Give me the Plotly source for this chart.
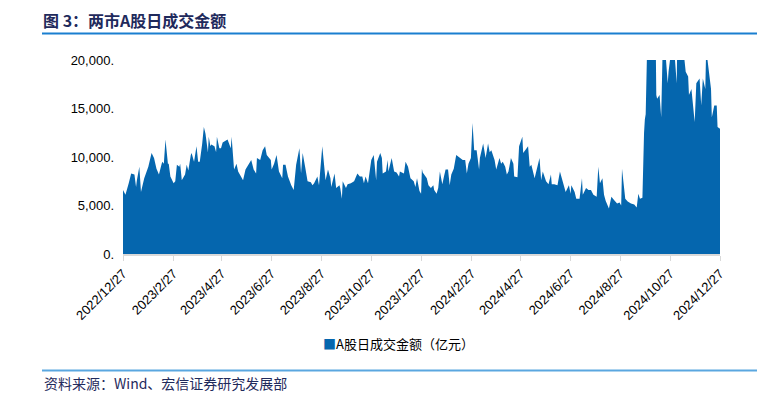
import plotly.graph_objects as go

dates = [
"2022-12-27","2022-12-30","2023-01-03","2023-01-06","2023-01-10","2023-01-12","2023-01-13","2023-01-16","2023-01-18","2023-01-22",
"2023-01-27","2023-01-31","2023-02-03","2023-02-06","2023-02-09","2023-02-13","2023-02-15","2023-02-17","2023-02-20","2023-02-21",
"2023-02-23","2023-02-27","2023-03-01","2023-03-03","2023-03-06","2023-03-07","2023-03-09","2023-03-13","2023-03-15","2023-03-17",
"2023-03-20","2023-03-21","2023-03-24","2023-03-27","2023-03-29","2023-03-31","2023-04-03","2023-04-05","2023-04-07","2023-04-10",
"2023-04-11","2023-04-13","2023-04-14","2023-04-18","2023-04-20","2023-04-21","2023-04-24","2023-04-26","2023-04-28","2023-05-04",
"2023-05-08","2023-05-09","2023-05-12","2023-05-15","2023-05-17","2023-05-19","2023-05-23","2023-05-26","2023-05-29","2023-06-02",
"2023-06-05","2023-06-08","2023-06-09","2023-06-13","2023-06-16","2023-06-19","2023-06-21","2023-06-26","2023-06-27","2023-06-30",
"2023-07-03","2023-07-06","2023-07-10","2023-07-11","2023-07-14","2023-07-17","2023-07-21","2023-07-24","2023-07-27","2023-07-31",
"2023-08-02","2023-08-04","2023-08-07","2023-08-10","2023-08-14","2023-08-16","2023-08-18","2023-08-22","2023-08-24","2023-08-25",
"2023-08-28","2023-08-31","2023-09-01","2023-09-04","2023-09-07","2023-09-08","2023-09-12","2023-09-14","2023-09-18","2023-09-19",
"2023-09-21","2023-09-22","2023-09-26","2023-09-28","2023-10-02","2023-10-06","2023-10-10","2023-10-13","2023-10-16","2023-10-18",
"2023-10-20","2023-10-23","2023-10-25","2023-10-27","2023-10-30","2023-11-02","2023-11-03","2023-11-07","2023-11-09","2023-11-10",
"2023-11-14","2023-11-16","2023-11-17","2023-11-21","2023-11-24","2023-11-27","2023-11-30","2023-12-01","2023-12-06","2023-12-08",
"2023-12-11","2023-12-14","2023-12-18","2023-12-20","2023-12-22","2023-12-25","2023-12-27","2023-12-28","2023-12-29","2024-01-03",
"2024-01-05","2024-01-08","2024-01-11","2024-01-12","2024-01-15","2024-01-17","2024-01-19","2024-01-22","2024-01-24","2024-01-26",
"2024-01-29","2024-01-31","2024-02-02","2024-02-05","2024-02-08","2024-02-12","2024-02-16","2024-02-19","2024-02-21","2024-02-23",
"2024-02-26","2024-02-28","2024-03-01","2024-03-04","2024-03-07","2024-03-08","2024-03-12","2024-03-15","2024-03-18","2024-03-20",
"2024-03-22","2024-03-26","2024-03-28","2024-04-01","2024-04-03","2024-04-05","2024-04-08","2024-04-10","2024-04-12","2024-04-15",
"2024-04-18","2024-04-19","2024-04-23","2024-04-25","2024-04-29","2024-04-30","2024-05-03","2024-05-06","2024-05-08","2024-05-10",
"2024-05-14","2024-05-17","2024-05-20","2024-05-22","2024-05-24","2024-05-28","2024-05-31","2024-06-03","2024-06-04","2024-06-07",
"2024-06-11","2024-06-14","2024-06-17","2024-06-19","2024-06-21","2024-06-25","2024-06-27","2024-06-28","2024-07-02","2024-07-04",
"2024-07-08","2024-07-11","2024-07-12","2024-07-16","2024-07-19","2024-07-22","2024-07-25","2024-07-29","2024-07-31","2024-08-02",
"2024-08-05","2024-08-07","2024-08-09","2024-08-13","2024-08-16","2024-08-20","2024-08-23","2024-08-26","2024-08-28","2024-08-29",
"2024-08-30","2024-09-02","2024-09-05","2024-09-09","2024-09-13","2024-09-16","2024-09-18","2024-09-20","2024-09-23","2024-09-24",
"2024-09-25","2024-09-26","2024-09-27","2024-09-30","2024-10-08","2024-10-09","2024-10-10","2024-10-11","2024-10-14","2024-10-16",
"2024-10-18","2024-10-21","2024-10-22","2024-10-24","2024-10-25","2024-10-28","2024-10-29","2024-10-30","2024-10-31","2024-11-01",
"2024-11-04","2024-11-05","2024-11-06","2024-11-07","2024-11-08","2024-11-11","2024-11-12","2024-11-13","2024-11-15","2024-11-18",
"2024-11-19","2024-11-22","2024-11-26","2024-11-28","2024-12-02","2024-12-04","2024-12-06","2024-12-09","2024-12-10","2024-12-11",
"2024-12-12","2024-12-16","2024-12-17","2024-12-20","2024-12-23","2024-12-24","2024-12-27",
]

turnover = [
6600,6100,7300,8300,8200,6900,7600,9000,6400,7800,
9000,10400,9900,8800,8200,9500,9300,11800,9300,9300,
8000,7300,7500,9200,9000,9300,7600,8200,9200,8600,
10200,10400,9500,11100,9500,9500,11400,13100,12400,10500,
12100,11100,11300,11100,10500,12100,10900,10900,11500,11800,
10900,12100,8700,9300,8500,8200,7600,8700,9200,9700,
8700,8300,9900,9700,10700,11100,10200,9700,8700,9300,
10200,8500,7800,9200,9200,8000,7100,6600,9200,10900,
8300,10400,9000,7500,7400,7100,7300,8000,7100,8200,
11100,8500,7600,8700,7800,6900,8300,6800,7100,6800,
5700,7500,6800,7200,7300,7500,8300,8000,8000,7300,
8000,7300,8500,9700,10200,7600,9500,10400,9900,8300,
8500,9700,8500,9900,8500,8400,8000,8500,8300,9500,
9000,7800,7500,6900,7800,6500,6200,8800,8400,7800,
7100,6800,7100,6600,6200,6800,8500,7200,8000,8700,
8700,7100,8200,8800,10200,9900,9700,9700,8300,9300,
9900,13500,10700,10700,8700,9900,11400,9900,11400,10500,
10700,9700,8700,9900,9300,9500,9000,8200,8500,9900,
9300,8000,7900,11100,12100,10400,10700,11100,9000,9200,
7800,9000,9900,7600,8500,7500,7200,8200,7200,7200,
7100,8500,7600,7200,6400,7100,6200,7100,6400,5700,
5700,7800,6100,6800,6600,6600,6100,5900,9000,7300,
7800,6100,5500,4700,5900,5500,5200,5300,5000,8800,
7800,5700,5400,5200,5100,4800,6200,5700,5800,11500,
12500,13900,14400,26100,34800,24000,16400,16000,16400,14100,
22000,21000,19700,17600,18800,21500,21500,21000,23000,21000,
17600,24000,25000,26000,25500,22000,21000,20500,18800,18300,
16400,17000,13600,17600,18100,15300,18100,17000,21000,20500,
19800,17000,14100,15300,15300,13100,12900,
]

tick_dates = ["2022-12-27","2023-02-27","2023-04-27","2023-06-27","2023-08-27","2023-10-27","2023-12-27",
              "2024-02-27","2024-04-27","2024-06-27","2024-08-27","2024-10-27","2024-12-27"]
tick_labels = ["2022/12/27","2023/2/27","2023/4/27","2023/6/27","2023/8/27","2023/10/27","2023/12/27",
               "2024/2/27","2024/4/27","2024/6/27","2024/8/27","2024/10/27","2024/12/27"]
y_ticks = [0, 5000, 10000, 15000, 20000]
y_labels = ["0.", "5,000.", "10,000.", "15,000.", "20,000."]

series_name = "A股日成交金额（亿元）"
title_text = "图 3：两市A股日成交金额"
source_text = "资料来源：Wind、宏信证券研究发展部"

BLUE = "#0566ae"
NAVY = "#1f2a5c"

# page body adds an 8px offset; work in page pixels and subtract it
OFF = 8
FW, FH = 770 - OFF, 396 - OFF
# plot area in page pixels: x 123..720, y 60..254
L, R, T, B = 123, 720, 60, 254
W, H = R - L, B - T
def px(x):
    return (x - L) / W
def py(y):
    return (B - y) / H

fig = go.Figure()
fig.add_trace(go.Scatter(
    x=dates, y=turnover, name=series_name, mode="lines",
    line=dict(width=0, color=BLUE), fill="tozeroy", fillcolor=BLUE,
    showlegend=False,
))

fig.update_layout(
    width=FW, height=FH,
    margin=dict(l=L - OFF, r=770 - R, t=T - OFF, b=396 - B),
    paper_bgcolor="white", plot_bgcolor="white",
    font=dict(family="Arial, Liberation Sans, sans-serif", size=13, color="#000000"),
    xaxis=dict(
        type="date", range=["2022-12-27", "2024-12-27"],
        tickvals=tick_dates, ticktext=tick_labels, tickangle=-45,
        showgrid=False, showline=True, linecolor="#d9d9d9", linewidth=2,
        ticks="outside", tickcolor="#d9d9d9", ticklen=5, tickwidth=1,
        tickfont=dict(size=13, color="#000000"), zeroline=False,
    ),
    yaxis=dict(
        range=[0, 20000], tickvals=y_ticks, ticktext=y_labels,
        showgrid=False, showline=False, zeroline=False, ticks="",
        tickfont=dict(size=13, color="#000000"), ticklabelstandoff=8,
    ),
    shapes=[
        dict(type="line", xref="paper", yref="paper", x0=px(42), x1=px(757), y0=py(33.5), y1=py(33.5),
             line=dict(color="#1a7fd0", width=2)),
        dict(type="line", xref="paper", yref="paper", x0=px(42), x1=px(757), y0=py(370.5), y1=py(370.5),
             line=dict(color="#5aa7e0", width=2)),
    ],
    annotations=[
        dict(xref="paper", yref="paper", x=px(42), y=py(20), xanchor="left", yanchor="middle",
             text="<b>" + title_text + "</b>", showarrow=False, borderpad=0,
             font=dict(family="Noto Sans CJK SC", size=16, color=NAVY)),
        dict(xref="paper", yref="paper", x=px(398), y=py(343), xanchor="center", yanchor="middle",
             text="<span style='color:%s'>■</span>%s" % (BLUE, series_name), showarrow=False,
             font=dict(family="Noto Sans CJK SC", size=13, color="#000000")),
        dict(xref="paper", yref="paper", x=px(42), y=py(383), xanchor="left", yanchor="middle",
             text=source_text, showarrow=False,
             font=dict(family="Noto Sans CJK SC", size=14, color=NAVY)),
    ],
)

fig.write_html("out.html")
